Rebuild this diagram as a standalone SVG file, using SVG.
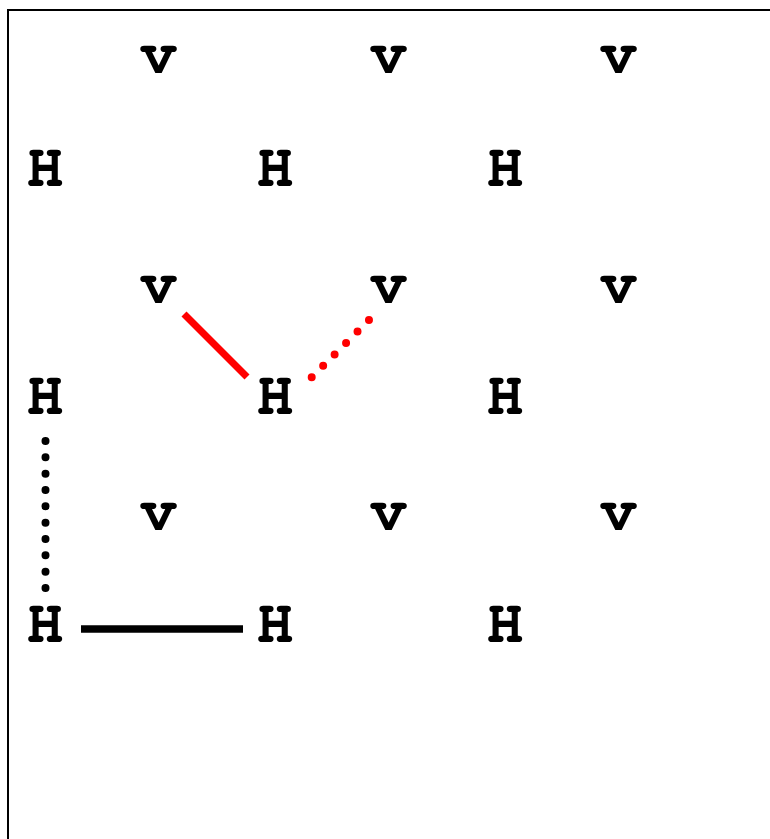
<svg xmlns="http://www.w3.org/2000/svg" width="770" height="839" viewBox="0 0 770 839">
<style>
.t{font-family:"Nimbus Mono PS","FreeMono","Courier 10 Pitch","Liberation Serif",serif;font-weight:bold;font-size:61px;fill:#000;text-anchor:middle}
</style>
<rect x="0" y="0" width="770" height="839" fill="#fff"/>
<rect x="8" y="10" width="800" height="900" fill="none" stroke="#000" stroke-width="2"/>
<g id="connectors" fill="none">
<line x1="184" y1="314" x2="247" y2="377" stroke="#f00" stroke-width="7"/>
<line x1="311.7" y1="377.3" x2="369" y2="320" stroke="#f00" stroke-width="8" stroke-linecap="round" stroke-dasharray="0 16.2"/>
<line x1="45.5" y1="441" x2="45.5" y2="588" stroke="#000" stroke-width="8" stroke-linecap="round" stroke-dasharray="0 16.33"/>
<line x1="81" y1="629" x2="243" y2="629" stroke="#000" stroke-width="7.5"/>
</g>
<g id="v1"><text class="t" x="158.5" y="73">v</text></g>
<g id="v2"><text class="t" x="388.5" y="73">v</text></g>
<g id="v3"><text class="t" x="618.5" y="73">v</text></g>
<g id="h1"><text class="t" x="45" y="185.5">H</text></g>
<g id="h2"><text class="t" x="275" y="185.5">H</text></g>
<g id="h3"><text class="t" x="505" y="185.5">H</text></g>
<g id="v4"><text class="t" x="158.5" y="303">v</text></g>
<g id="v5"><text class="t" x="388.5" y="303">v</text></g>
<g id="v6"><text class="t" x="618.5" y="303">v</text></g>
<g id="h4"><text class="t" x="45" y="413.5">H</text></g>
<g id="h5"><text class="t" x="275" y="413.5">H</text></g>
<g id="h6"><text class="t" x="505" y="413.5">H</text></g>
<g id="v7"><text class="t" x="158.5" y="530">v</text></g>
<g id="v8"><text class="t" x="388.5" y="530">v</text></g>
<g id="v9"><text class="t" x="618.5" y="530">v</text></g>
<g id="h7"><text class="t" x="45" y="641.5">H</text></g>
<g id="h8"><text class="t" x="275" y="641.5">H</text></g>
<g id="h9"><text class="t" x="505" y="641.5">H</text></g>
</svg>
